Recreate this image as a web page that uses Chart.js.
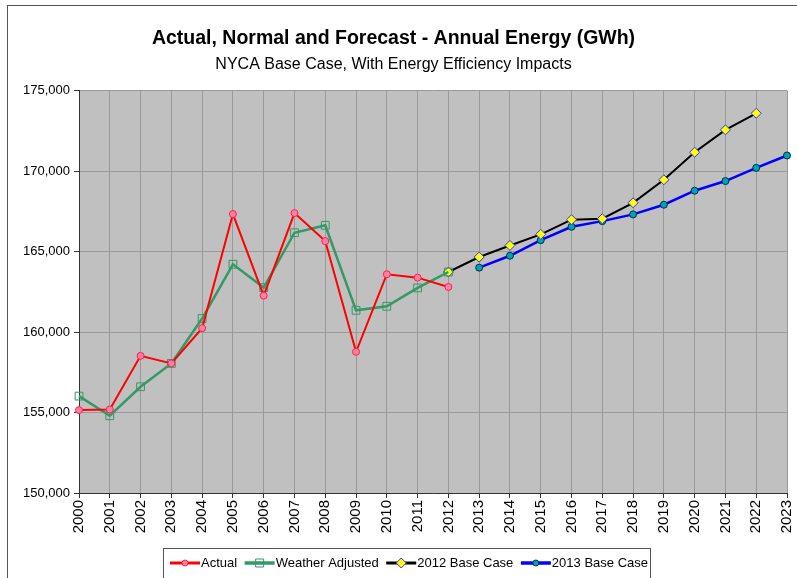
<!DOCTYPE html>
<html>
<head>
<meta charset="utf-8">
<script src="https://cdn.jsdelivr.net/npm/chart.js@4"></script>
<style>
  html, body { margin: 0; padding: 0; background: #fff; }
  #wrap { width: 797px; height: 578px; position: relative; }
</style>
</head>
<body>
<div id="wrap"><canvas id="chart" width="797" height="578"></canvas></div>
<script>
const years = ['2000','2001','2002','2003','2004','2005','2006','2007','2008','2009','2010','2011',
               '2012','2013','2014','2015','2016','2017','2018','2019','2020','2021','2022','2023'];

const actual = [155150, 155190, 158520, 158050, 160240, 167330, 162260, 167390, 165650, 158770,
                163590, 163380, 162800, null, null, null, null, null, null, null, null, null, null, null];

const weatherAdjusted = [156020, 154800, 156600, 158050, 160840, 164210, 162760, 166170, 166630, 161350,
                         161600, 162740, 163730, null, null, null, null, null, null, null, null, null, null, null];

const baseCase2012 = [null, null, null, null, null, null, null, null, null, null, null, null,
                      163730, 164660, 165380, 166070, 166980, 167040, 168030, 169460, 171170, 172560, 173590, null];

const baseCase2013 = [null, null, null, null, null, null, null, null, null, null, null, null,
                      null, 164000, 164740, 165710, 166540, 166890, 167310, 167910, 168780, 169380, 170200, 170970];

const titleText = 'Actual, Normal and Forecast - Annual Energy (GWh)';
const subtitleText = 'NYCA Base Case, With Energy Efficiency Impacts';
const yTicks = { min: 150000, max: 175000, step: 5000 };

const FONT = '"Liberation Sans", Arial, sans-serif';

// grey plot area + outer frame
const plotBg = {
    id: 'plotBg',
    beforeDraw(chart) {
        const { ctx, chartArea: a } = chart;
        ctx.save();
        ctx.fillStyle = '#fff';
        ctx.fillRect(0, 0, chart.width, chart.height);
        ctx.strokeStyle = '#555';
        ctx.lineWidth = 1;
        ctx.strokeRect(7.5, 5.5, 820, 620);
        ctx.fillStyle = '#C0C0C0';
        ctx.fillRect(a.left, a.top, a.right - a.left, a.bottom - a.top);
        ctx.restore();
    }
};

// excel style legend: line with marker, then text
const excelLegend = {
    id: 'excelLegend',
    afterDraw(chart) {
        const ctx = chart.ctx;
        const y = 563;
        ctx.save();
        ctx.strokeStyle = '#555';
        ctx.lineWidth = 1;
        ctx.strokeRect(163.5, 548.5, 487, 40);
        ctx.font = '13px ' + FONT;
        ctx.textBaseline = 'middle';
        let x = 170;
        chart.data.datasets.forEach(ds => {
            ctx.strokeStyle = ds.borderColor;
            ctx.lineWidth = ds.borderWidth + 1;
            ctx.beginPath();
            ctx.moveTo(x, y);
            ctx.lineTo(x + 30, y);
            ctx.stroke();
            const mx = x + 15;
            ctx.fillStyle = ds.pointBackgroundColor;
            ctx.strokeStyle = ds.pointBorderColor;
            ctx.lineWidth = 1;
            ctx.beginPath();
            const r = ds.pointRadius;
            if (ds.pointStyle === 'rect') {
                ctx.rect(mx - 4, y - 4, 8, 8);
            } else if (ds.pointStyle === 'rectRot') {
                ctx.moveTo(mx, y - r); ctx.lineTo(mx + r, y); ctx.lineTo(mx, y + r); ctx.lineTo(mx - r, y); ctx.closePath();
            } else {
                ctx.arc(mx, y, 3, 0, Math.PI * 2);
            }
            ctx.fill();
            ctx.stroke();
            ctx.fillStyle = '#000';
            ctx.fillText(ds.label, x + 31, y);
            x += 31 + ctx.measureText(ds.label).width + 7.5;
        });
        ctx.restore();
    }
};

const ctx = document.getElementById('chart').getContext('2d');
const myChart = new Chart(ctx, {
    type: 'line',
    data: {
        labels: years,
        datasets: [
            {
                label: 'Actual',
                data: actual,
                borderColor: '#FF0000',
                borderWidth: 2,
                pointStyle: 'circle',
                pointRadius: 3.5,
                pointBackgroundColor: '#FF7FA0',
                pointBorderColor: '#FF2050',
                pointBorderWidth: 1
            },
            {
                label: 'Weather Adjusted',
                data: weatherAdjusted,
                borderColor: '#339966',
                borderWidth: 2.5,
                pointStyle: 'rect',
                pointRadius: 5.5,
                pointBackgroundColor: 'rgba(0,0,0,0)',
                pointBorderColor: '#339966',
                pointBorderWidth: 1
            },
            {
                label: '2012 Base Case',
                data: baseCase2012,
                borderColor: '#000000',
                borderWidth: 2,
                pointStyle: 'rectRot',
                pointRadius: 5,
                pointBackgroundColor: '#FFFF00',
                pointBorderColor: '#3333FF',
                pointBorderWidth: 1
            },
            {
                label: '2013 Base Case',
                data: baseCase2013,
                borderColor: '#0000FF',
                borderWidth: 2.5,
                pointStyle: 'circle',
                pointRadius: 3.5,
                pointBackgroundColor: '#00A0C0',
                pointBorderColor: '#003333',
                pointBorderWidth: 1
            }
        ]
    },
    options: {
        responsive: false,
        animation: false,
        spanGaps: false,
        layout: { padding: { left: 0, right: 10, top: 0, bottom: 30 } },
        plugins: {
            legend: { display: false },
            tooltip: { enabled: false },
            title: {
                display: true,
                text: titleText,
                color: '#000',
                font: { family: FONT, size: 19.5, weight: 'bold' },
                padding: { top: 27, bottom: 4 }
            },
            subtitle: {
                display: true,
                text: subtitleText,
                color: '#000',
                font: { family: FONT, size: 16 },
                padding: { top: 1, bottom: 16 }
            }
        },
        scales: {
            x: {
                offset: false,
                grid: { offset: false, color: '#999', tickColor: '#333', tickLength: 5 },
                border: { color: '#333' },
                ticks: {
                    color: '#000',
                    font: { family: FONT, size: 15 },
                    maxRotation: 90,
                    minRotation: 90,
                    autoSkip: false,
                    padding: 2
                },
                afterFit(scale) {
                    scale.height = 55;
                    scale.paddingLeft = 0;
                    scale.paddingRight = 0;
                }
            },
            y: {
                min: yTicks.min,
                max: yTicks.max,
                grid: { color: '#999', tickColor: '#333', tickLength: 5 },
                border: { color: '#333' },
                ticks: {
                    stepSize: yTicks.step,
                    color: '#000',
                    font: { family: FONT, size: 13 },
                    padding: 4,
                    callback: v => v.toLocaleString('en-US')
                },
                afterFit(scale) { scale.width = 79; }
            }
        }
    },
    plugins: [plotBg, excelLegend]
});
</script>
</body>
</html>
